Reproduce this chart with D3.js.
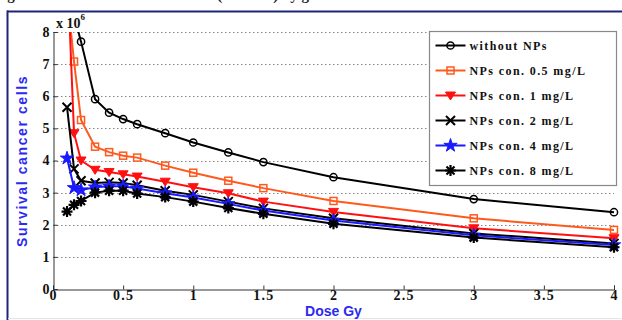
<!DOCTYPE html>
<html>
<head>
<meta charset="utf-8">
<script src="https://cdn.jsdelivr.net/npm/d3@7"></script>
<style>
body { margin: 0; background: #fff; }
svg { display: block; }
</style>
</head>
<body>
<svg id="chart"></svg>
<script>
var width = 622, height = 320;
var svg = d3.select("#chart").attr("width", width).attr("height", height);

// dose values (Gy)
var doses = [0.1, 0.15, 0.2, 0.3, 0.4, 0.5, 0.6, 0.8, 1, 1.25, 1.5, 2, 3, 4];
// survival cancer cells (x 10^6)
var withoutNPs = [9.6, 8.5, 7.7, 5.91, 5.49, 5.29, 5.13, 4.85, 4.56, 4.25, 3.95, 3.48, 2.80, 2.39];
var np05 = [9.2, 7.08, 5.26, 4.43, 4.26, 4.15, 4.09, 3.84, 3.62, 3.37, 3.14, 2.74, 2.20, 1.84];
var np1 = [10.2, 4.85, 4.0, 3.71, 3.64, 3.57, 3.50, 3.34, 3.17, 2.98, 2.72, 2.40, 1.89, 1.58];
var np2 = [5.66, 3.74, 3.37, 3.30, 3.32, 3.30, 3.23, 3.06, 2.93, 2.72, 2.51, 2.20, 1.73, 1.42];
var np4 = [4.07, 3.15, 3.08, 3.17, 3.20, 3.20, 3.13, 2.98, 2.85, 2.65, 2.44, 2.13, 1.67, 1.37];
var np8 = [2.41, 2.62, 2.74, 3.00, 3.06, 3.06, 2.97, 2.86, 2.72, 2.52, 2.34, 2.03, 1.60, 1.30];

var seriesNames = ["without NPs", "NPs con. 0.5 mg/L", "NPs con. 1 mg/L", "NPs con. 2 mg/L", "NPs con. 4 mg/L", "NPs con. 8 mg/L"];
var seriesValues = [withoutNPs, np05, np1, np2, np4, np8];
var seriesColors = ["#000000", "#ff5a1e", "#ff1010", "#000000", "#1a1aff", "#000000"];
var seriesMarkers = ["circle", "square", "triangle", "times", "star", "asterisk"];

var xTicks = [0, 0.5, 1, 1.5, 2, 2.5, 3, 3.5, 4];
var yTicks = [0, 1, 2, 3, 4, 5, 6, 7, 8];

var margin = {left: 53, right: 8, top: 32, bottom: 31};
var x = d3.scaleLinear().domain([0, 4]).range([margin.left, width - margin.right]);
var y = d3.scaleLinear().domain([0, 8]).range([height - margin.bottom, margin.top]);

var serif = "'Liberation Serif', 'Times New Roman', serif";
var sans = "'Liberation Sans', Arial, sans-serif";

// cut-off caption at the very top
svg.append("text")
    .attr("x", -6).attr("y", 0)
    .style("font-family", serif).style("font-weight", "bold").style("font-size", "15px")
    .attr("fill", "#222")
    .text("Figure 4: The survival cancer cells (number) by gamma dose");

// figure frame
svg.append("line").attr("x1", 7).attr("x2", width).attr("y1", 11.5).attr("y2", 11.5)
    .attr("stroke", "#1e2478").attr("stroke-width", 2);
svg.append("line").attr("x1", 7.5).attr("x2", 7.5).attr("y1", 10.5).attr("y2", height)
    .attr("stroke", "#1e2478").attr("stroke-width", 2);
svg.append("line").attr("x1", 8).attr("x2", width).attr("y1", 318.5).attr("y2", 318.5)
    .attr("stroke", "#e4e4e4").attr("stroke-width", 1);

// grid
svg.append("g").selectAll("line")
    .data(yTicks.filter(function (d) { return d > 0; }))
    .enter().append("line")
    .attr("x1", x(0)).attr("x2", x(4))
    .attr("y1", function (d) { return Math.round(y(d)) + 0.5; })
    .attr("y2", function (d) { return Math.round(y(d)) + 0.5; })
    .attr("stroke", "#888").attr("stroke-width", 1.2).attr("stroke-dasharray", "1.5,2.5");

// axes
var xAxis = svg.append("g").attr("transform", "translate(0," + (y(0) + 0.5) + ")")
    .call(d3.axisBottom(x).tickValues(xTicks).tickSize(-4).tickPadding(1)
        .tickFormat(function (d) { return d3.format("")(d); }));
var yAxis = svg.append("g").attr("transform", "translate(" + (x(0) + 0.5) + ",0)")
    .call(d3.axisLeft(y).tickValues(yTicks).tickSize(-4).tickPadding(4));
[xAxis, yAxis].forEach(function (a) {
    a.select(".domain").attr("stroke", "#333");
    a.selectAll(".tick line").attr("stroke", "#333");
    a.selectAll(".tick text")
        .style("font-family", serif).style("font-weight", "bold").style("font-size", "14px")
        .attr("fill", "#111");
});
xAxis.selectAll(".tick text").style("letter-spacing", "1.2px");

// exponent label
var expo = svg.append("text").attr("x", 56).attr("y", 28)
    .style("font-family", serif).style("font-weight", "bold").style("font-size", "14px")
    .attr("fill", "#111");
expo.append("tspan").text("x 10");
expo.append("tspan").attr("dy", -8).style("font-size", "9px").text("6");

// axis titles
svg.append("text")
    .attr("transform", "translate(27," + 161 + ") rotate(-90)")
    .attr("text-anchor", "middle")
    .style("font-family", sans).style("font-weight", "bold").style("font-size", "14px")
    .style("letter-spacing", "1.6px")
    .attr("fill", "#2a2af0")
    .text("Survival cancer cells");
svg.append("text")
    .attr("x", (x(0) + x(4)) / 2).attr("y", 316)
    .attr("text-anchor", "middle")
    .style("font-family", sans).style("font-weight", "bold").style("font-size", "14px")
    .attr("fill", "#2a2af0")
    .text("Dose Gy");

// marker drawing
function drawMarker(g, type, color) {
    if (type === "circle") {
        g.append("circle").attr("r", 3.6).attr("fill", "none").attr("stroke", color).attr("stroke-width", 1.5);
    } else if (type === "square") {
        g.append("rect").attr("x", -3.5).attr("y", -3.5).attr("width", 7).attr("height", 7)
            .attr("fill", "none").attr("stroke", color).attr("stroke-width", 1.5);
    } else if (type === "triangle") {
        g.append("path").attr("d", "M-5,-3.5L5,-3.5L0,4.5Z").attr("fill", color).attr("stroke", color);
    } else if (type === "times") {
        g.append("path").attr("d", "M-4.5,-4.5L4.5,4.5M-4.5,4.5L4.5,-4.5")
            .attr("stroke", color).attr("stroke-width", 2);
    } else if (type === "star") {
        g.append("path").attr("d", d3.symbol().type(d3.symbolStar).size(55)())
            .attr("fill", color).attr("stroke", color).attr("stroke-width", 1);
    } else if (type === "asterisk") {
        g.append("path").attr("d", "M-5.5,0L5.5,0M0,-5.5L0,5.5M-4,-4L4,4M-4,4L4,-4")
            .attr("stroke", color).attr("stroke-width", 2.2);
    }
}

// clip to plot area
svg.append("defs").append("clipPath").attr("id", "plotclip")
    .append("rect").attr("x", x(0)).attr("y", y(8)).attr("width", x(4) - x(0) + 8).attr("height", y(0) - y(8));

var plot = svg.append("g").attr("clip-path", "url(#plotclip)");
var line = d3.line().x(function (d) { return x(d[0]); }).y(function (d) { return y(d[1]); });

seriesValues.forEach(function (vals, i) {
    var pts = doses.map(function (d, j) { return [d, vals[j]]; });
    var sg = plot.append("g");
    sg.append("path").datum(pts).attr("d", line)
        .attr("fill", "none").attr("stroke", seriesColors[i]).attr("stroke-width", 2);
    sg.selectAll("g.mk").data(pts).enter().append("g").attr("class", "mk")
        .attr("transform", function (d) { return "translate(" + x(d[0]) + "," + y(d[1]) + ")"; })
        .each(function () { drawMarker(d3.select(this), seriesMarkers[i], seriesColors[i]); });
});

// legend
var lg = svg.append("g").attr("transform", "translate(429.5,31.5)");
lg.append("rect").attr("width", 187).attr("height", 154)
    .attr("fill", "#fff").attr("stroke", "#888").attr("stroke-width", 1.2);
seriesNames.forEach(function (name, i) {
    var row = lg.append("g").attr("transform", "translate(0," + (14 + i * 25) + ")");
    row.append("line").attr("x1", 6).attr("x2", 36).attr("y1", 0).attr("y2", 0)
        .attr("stroke", seriesColors[i]).attr("stroke-width", 2);
    var m = row.append("g").attr("transform", "translate(21,0)");
    drawMarker(m, seriesMarkers[i], seriesColors[i]);
    row.append("text").attr("x", 40).attr("y", 4)
        .style("font-family", serif).style("font-weight", "bold").style("font-size", "12px")
        .style("letter-spacing", "1.4px")
        .attr("fill", "#111")
        .text(name);
});
</script>
</body>
</html>
